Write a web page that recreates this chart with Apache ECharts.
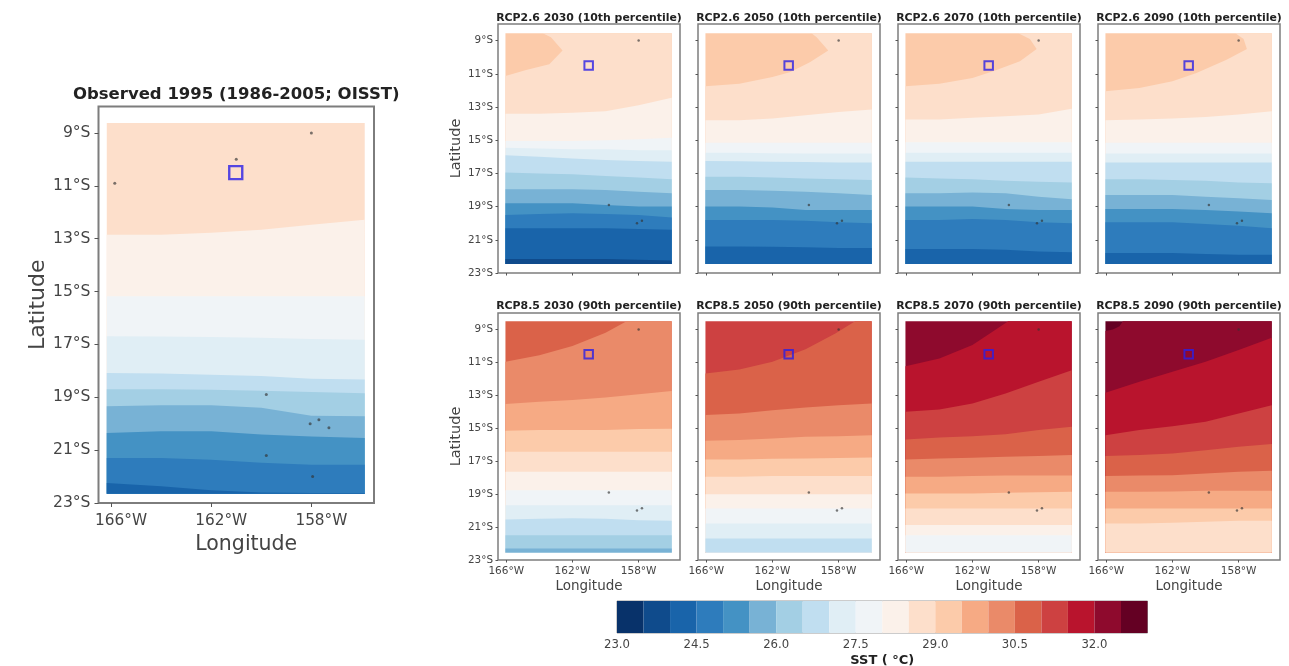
<!DOCTYPE html>
<html><head><meta charset="utf-8">
<style>html,body{margin:0;padding:0;background:#fff}#c{width:1289px;height:666px;filter:blur(0.5px)}</style>
<script src="https://cdn.jsdelivr.net/npm/echarts@6/dist/echarts.min.js"></script>
</head><body><div id="c"></div>
<script>
// SST colour levels, 23.0–33.0 in 0.5 steps
const palette = ['#08326a','#0f4b8c','#1964aa','#2e7cbc','#4492c4','#78b2d5','#a3cfe4','#c0def0','#e0eef5','#f0f4f7','#fbf1ea','#fddfcb','#fccbaa','#f6aa84','#ea8a69','#da6249','#cd4141','#b9142d','#8e0a2d','#640023'];
const cbarTicks = [23,24.5,26,27.5,29,30.5,32];
const lonTicks = [-166,-162,-158];
const latTicks = [-9,-11,-13,-15,-17,-19,-21,-23];
// longitudes at which the band boundaries below are read
const lonKnots = [-166.2,-164,-162,-160,-158,-155.8];
// Islands and target reef
const islands = [[-158,-9],[-165.85,-10.9],[-161,-10],[-159.8,-18.9],[-158.05,-20],[-157.7,-19.85],[-157.3,-20.15],[-159.8,-21.2],[-157.95,-22]];
const smallIslands = [[-158,-9],[-159.8,-18.9],[-158.1,-20],[-157.8,-19.85]];
const target = [[-161.02,-10.5]];
// Band boundaries (latitude at each knot), warm to cold; the top colour index is given per panel
const observed = [[-12.85,-12.85,-12.78,-12.66,-12.47,-12.28],[-15.18,-15.18,-15.18,-15.18,-15.18,-15.18],[-16.69,-16.7,-16.72,-16.75,-16.8,-16.82],[-18.08,-18.1,-18.15,-18.2,-18.3,-18.33],[-18.7,-18.7,-18.72,-18.75,-18.8,-18.85],[-19.34,-19.3,-19.3,-19.4,-19.7,-19.72],[-20.35,-20.29,-20.29,-20.41,-20.48,-20.54],[-21.3,-21.3,-21.36,-21.48,-21.55,-21.55],[-22.24,-22.37,-22.52,-22.6,-22.62,-22.62]];
const rcp26_2030 = [{lon:[-166.2,-164.8,-163.4,-162.6,-163.3,-163.8],lat:[-11.13,-10.77,-10.43,-9.6,-8.8,-8.4]},[-13.4,-13.4,-13.35,-13.25,-12.9,-12.44],[-15.05,-15.05,-15.05,-15,-14.95,-14.85],[-15.45,-15.5,-15.55,-15.55,-15.6,-15.6],[-15.9,-16,-16.1,-16.2,-16.25,-16.3],[-16.95,-17,-17.05,-17.15,-17.25,-17.35],[-17.95,-17.95,-17.95,-18,-18.1,-18.2],[-18.8,-18.8,-18.8,-18.9,-19,-19],[-19.5,-19.45,-19.4,-19.45,-19.5,-19.65],[-20.3,-20.3,-20.3,-20.3,-20.35,-20.4],[-22.15,-22.15,-22.15,-22.15,-22.2,-22.25]];
const rcp26_2050 = [{lon:[-166.2,-164,-162,-160.95,-159.74,-158.63,-159.33,-159.64],lat:[-11.75,-11.6,-11.2,-10.9,-10.3,-9.6,-8.8,-8.4]},[-13.8,-13.8,-13.7,-13.5,-13.3,-13.15],[-15.15,-15.15,-15.15,-15.15,-15.15,-15.15],[-15.76,-15.76,-15.78,-15.8,-15.8,-15.8],[-16.25,-16.27,-16.3,-16.32,-16.35,-16.35],[-17.2,-17.2,-17.25,-17.3,-17.35,-17.4],[-18,-18,-18.05,-18.1,-18.2,-18.3],[-19,-19,-19.05,-19.2,-19.2,-19.2],[-19.8,-19.8,-19.8,-19.85,-19.95,-20],[-21.4,-21.4,-21.42,-21.45,-21.5,-21.5]];
const rcp26_2070 = [{lon:[-166.2,-164,-162,-160.75,-159.13,-158.12,-158.53,-159.23],lat:[-11.75,-11.6,-11.25,-10.85,-10.25,-9.5,-8.9,-8.4]},[-13.75,-13.75,-13.65,-13.55,-13.45,-13.1],[-15.12,-15.12,-15.12,-15.12,-15.12,-15.12],[-15.76,-15.76,-15.76,-15.76,-15.76,-15.76],[-16.3,-16.3,-16.3,-16.3,-16.3,-16.3],[-17.25,-17.3,-17.35,-17.45,-17.5,-17.55],[-18.2,-18.2,-18.15,-18.2,-18.4,-18.55],[-19,-19,-19,-19.15,-19.2,-19.2],[-19.8,-19.8,-19.75,-19.8,-19.95,-20],[-21.55,-21.55,-21.55,-21.6,-21.7,-21.75]];
const rcp26_2090 = [{lon:[-166.2,-164,-162,-160.55,-158.73,-157.5,-157.7,-158.2],lat:[-12.05,-11.85,-11.45,-10.95,-10.15,-9.5,-8.9,-8.4]},[-13.8,-13.75,-13.7,-13.6,-13.45,-13.25],[-15.15,-15.15,-15.15,-15.15,-15.15,-15.15],[-15.8,-15.8,-15.8,-15.8,-15.8,-15.8],[-16.35,-16.35,-16.35,-16.35,-16.35,-16.35],[-17.35,-17.35,-17.4,-17.45,-17.55,-17.6],[-18.3,-18.3,-18.3,-18.4,-18.5,-18.6],[-19.15,-19.15,-19.15,-19.2,-19.3,-19.4],[-19.95,-19.95,-19.95,-20.05,-20.15,-20.3],[-21.8,-21.8,-21.8,-21.85,-21.9,-21.9]];
const rcp85_2030 = [{lon:[-166.2,-164,-162,-160,-158.73],lat:[-10.96,-10.56,-10,-9.2,-8.4]},[-13.53,-13.39,-13.29,-13.13,-12.93,-12.74],[-15.15,-15.1,-15.1,-15.1,-15.05,-15.03],[-16.43,-16.43,-16.43,-16.43,-16.43,-16.43],[-17.64,-17.64,-17.64,-17.64,-17.64,-17.64],[-18.76,-18.76,-18.76,-18.76,-18.76,-18.76],[-19.67,-19.67,-19.67,-19.67,-19.67,-19.67],[-20.54,-20.5,-20.46,-20.5,-20.58,-20.62],[-21.49,-21.49,-21.49,-21.49,-21.49,-21.49],[-22.3,-22.3,-22.3,-22.3,-22.3,-22.3]];
const rcp85_2050 = [{lon:[-166.2,-164,-162,-160,-158.2,-157],lat:[-11.67,-11.43,-10.96,-10.2,-9.24,-8.4]},[-14.2,-14.1,-13.9,-13.74,-13.6,-13.5],[-15.76,-15.72,-15.62,-15.52,-15.48,-15.42],[-16.9,-16.9,-16.85,-16.83,-16.8,-16.77],[-17.95,-17.95,-17.9,-17.9,-17.9,-17.9],[-19,-19,-19,-19,-19,-19],[-19.87,-19.87,-19.87,-19.87,-19.87,-19.87],[-20.78,-20.78,-20.78,-20.78,-20.78,-20.78],[-21.69,-21.69,-21.69,-21.69,-21.69,-21.69]];
const rcp85_2070 = [{lon:[-166.2,-164,-162,-160.95,-159.84],lat:[-11.23,-10.76,-9.95,-9.25,-8.4]},[-14,-13.86,-13.49,-12.89,-12.18,-11.47],[-15.68,-15.56,-15.48,-15.36,-15.11,-14.91],[-16.9,-16.83,-16.79,-16.73,-16.69,-16.63],[-17.95,-17.95,-17.9,-17.87,-17.87,-17.87],[-18.96,-18.96,-18.96,-18.92,-18.88,-18.86],[-19.87,-19.87,-19.87,-19.87,-19.87,-19.87],[-20.88,-20.88,-20.88,-20.88,-20.88,-20.88],[-21.5,-21.5,-21.5,-21.5,-21.5,-21.5]];
const rcp85_2090 = [{lon:[-166.2,-165.6,-165.2,-165],lat:[-9.1,-9,-8.8,-8.4]},[-12.84,-12.18,-11.57,-10.96,-10.25,-9.5],[-15.42,-15.11,-14.87,-14.6,-14.1,-13.6],[-16.69,-16.63,-16.53,-16.33,-16.13,-15.96],[-17.9,-17.87,-17.85,-17.75,-17.64,-17.58],[-18.86,-18.86,-18.84,-18.8,-18.8,-18.8],[-19.87,-19.87,-19.87,-19.87,-19.87,-19.87],[-20.78,-20.78,-20.74,-20.68,-20.62,-20.62]];

const ROW1=[24,249], ROW2=[313,247], COLS=[498,698,898,1098], W=182;
const panels=[
 {t:'Observed 1995 (1986-2005; OISST)',b:observed,top:11,l:98.5,y:106.5,w:275.5,h:396.5,ext:[-166.17,-155.87,-22.65,-8.62],big:true,isl:islands,ylab:true,xlab:true},
 {t:'RCP2.6 2030 (10th percentile)',b:rcp26_2030,top:12,l:COLS[0],y:ROW1[0],w:W,h:ROW1[1],ext:[-166.05,-156,-22.46,-8.55],isl:smallIslands,ylab:true},
 {t:'RCP2.6 2050 (10th percentile)',b:rcp26_2050,top:12,l:COLS[1],y:ROW1[0],w:W,h:ROW1[1],ext:[-166.05,-156,-22.46,-8.55],isl:smallIslands},
 {t:'RCP2.6 2070 (10th percentile)',b:rcp26_2070,top:12,l:COLS[2],y:ROW1[0],w:W,h:ROW1[1],ext:[-166.05,-156,-22.46,-8.55],isl:smallIslands},
 {t:'RCP2.6 2090 (10th percentile)',b:rcp26_2090,top:12,l:COLS[3],y:ROW1[0],w:W,h:ROW1[1],ext:[-166.05,-156,-22.46,-8.55],isl:smallIslands},
 {t:'RCP8.5 2030 (90th percentile)',b:rcp85_2030,top:15,l:COLS[0],y:ROW2[0],w:W,h:ROW2[1],ext:[-166.05,-156,-22.54,-8.5],isl:smallIslands,ylab:true,xlab:true},
 {t:'RCP8.5 2050 (90th percentile)',b:rcp85_2050,top:16,l:COLS[1],y:ROW2[0],w:W,h:ROW2[1],ext:[-166.05,-156,-22.54,-8.5],isl:smallIslands,xlab:true},
 {t:'RCP8.5 2070 (90th percentile)',b:rcp85_2070,top:18,l:COLS[2],y:ROW2[0],w:W,h:ROW2[1],ext:[-166.05,-156,-22.54,-8.5],isl:smallIslands,xlab:true},
 {t:'RCP8.5 2090 (90th percentile)',b:rcp85_2090,top:19,l:COLS[3],y:ROW2[0],w:W,h:ROW2[1],ext:[-166.05,-156,-22.54,-8.5],isl:smallIslands,xlab:true},
];
const FONT='"DejaVu Sans"';
const grid=[],xAxis=[],yAxis=[],series=[],title=[];
panels.forEach((p,i)=>{
  const big=!!p.big;
  const tf=big?16.5:10.9;
  grid.push({show:true,outerBoundsMode:'none',left:p.l,top:p.y,width:p.w,height:p.h,backgroundColor:'#fff',borderColor:'#7d7d7d',borderWidth:big?2:1.5});
  xAxis.push({type:'value',gridIndex:i,min:-166.5,max:-155.5,splitLine:{show:false},axisLine:{show:false},
    axisTick:{show:true,customValues:lonTicks,length:big?4:2.5,lineStyle:{color:'#555'}},
    axisLabel:{show:!!p.xlab,customValues:lonTicks,fontFamily:FONT,fontSize:big?15.3:10.5,color:'#444',margin:big?11:6,padding:big?[0,0,0,20]:0,formatter:v=>Math.abs(v)+'°W'},
    name:p.xlab?'Longitude':'',nameLocation:'middle',nameGap:big?30:19,nameTextStyle:{fontFamily:FONT,fontSize:big?20.5:13.5,color:'#444',padding:big?[0,0,0,20]:0}});
  yAxis.push({type:'value',gridIndex:i,min:-23,max:-8,splitLine:{show:false},axisLine:{show:false},
    axisTick:{show:true,customValues:latTicks,length:big?4:2.5,lineStyle:{color:'#555'}},
    axisLabel:{show:!!p.ylab,customValues:latTicks,fontFamily:FONT,fontSize:big?15.6:10.4,color:'#444',margin:big?8:5,formatter:v=>Math.abs(v)+'°S'},
    name:p.ylab?'Latitude':'',nameLocation:'middle',nameGap:big?42:19,nameTextStyle:{fontFamily:FONT,fontSize:big?22:14.5,color:'#444',padding:big?[0,0,6,0]:[0,0,3,0]}});
  title.push({text:p.t,left:p.l+p.w/2,top:(big?94:(p.y<100?18:306))-tf/2,textAlign:'center',padding:0,
    textStyle:{fontFamily:FONT,fontWeight:'bold',fontSize:tf,color:'#222'}});
  const [x0,x1,y0,y1]=p.ext;
  const clampPt=(lo,la)=>[Math.min(x1,Math.max(x0,lo)),Math.min(y1,Math.max(y0,la))];
  const items=[[(x0+x1)/2,(y0+y1)/2,-1]].concat(p.b.map((b,k)=>[(x0+x1)/2,(y0+y1)/2,k]));
  series.push({type:'custom',xAxisIndex:i,yAxisIndex:i,silent:true,clip:false,z:1,data:items,
    renderItem:(params,api)=>{
      const k=api.value(2);
      let pts;
      if(k<0) pts=[[x0,y1],[x1,y1],[x1,y0],[x0,y0]];
      else{
        const b=p.b[k];
        const line=Array.isArray(b)?b.map((la,j)=>clampPt(lonKnots[j],la)):b.lat.map((la,j)=>clampPt(b.lon[j],la));
        pts=line.concat(Array.isArray(b)?[]:[[x1,y1]]).concat([[x1,y0],[x0,y0]]);
      }
      return {type:'polygon',shape:{points:pts.map(q=>api.coord(q))},style:{fill:palette[p.top-(k+1)]}};
    }});
  series.push({type:'scatter',xAxisIndex:i,yAxisIndex:i,silent:true,z:3,symbolSize:big?3:2.5,data:p.isl,itemStyle:{color:'#333',opacity:.65}});
  series.push({type:'scatter',xAxisIndex:i,yAxisIndex:i,silent:true,z:4,symbol:'rect',symbolSize:big?13:8.5,data:target,
    itemStyle:{color:'rgba(0,0,0,0)',borderColor:'#2a1fe6',borderWidth:big?2.4:2}});
});
// colour bar
const cb=panels.length;
grid.push({show:true,outerBoundsMode:'none',left:617,top:601,width:530.5,height:32,borderColor:'#999',borderWidth:1});
xAxis.push({type:'value',gridIndex:cb,min:23,max:33,splitLine:{show:false},axisLine:{show:false},
  axisTick:{show:false},
  axisLabel:{customValues:cbarTicks,fontFamily:FONT,fontSize:11.7,color:'#444',margin:6,formatter:v=>v.toFixed(1)},
  name:'SST ( °C)',nameLocation:'middle',nameGap:21,nameTextStyle:{fontFamily:FONT,fontWeight:'bold',fontSize:13,color:'#222'}});
yAxis.push({type:'value',gridIndex:cb,min:0,max:1,show:false});
series.push({type:'custom',xAxisIndex:cb,yAxisIndex:cb,silent:true,clip:false,z:1,
  data:palette.map((c,i)=>[23+i*0.5,23+(i+1)*0.5,i]),
  renderItem:(params,api)=>{
    const a=api.coord([api.value(0),1]),b=api.coord([api.value(1),0]);
    return {type:'rect',shape:{x:a[0],y:a[1],width:b[0]-a[0],height:b[1]-a[1]},style:{fill:palette[api.value(2)]}};
  }});
const chart=echarts.init(document.getElementById('c'),null,{renderer:'canvas'});
chart.setOption({animation:false,backgroundColor:'#fff',title,grid,xAxis,yAxis,series,tooltip:{show:false}});
</script></body></html>
